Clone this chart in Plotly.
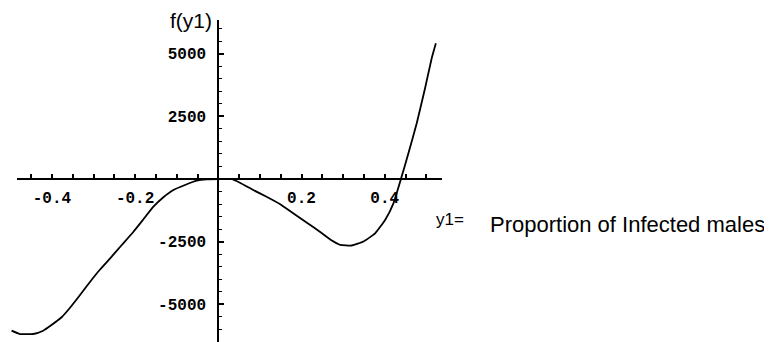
import plotly.graph_objects as go

# curve
y1_vals = [-0.497, -0.477, -0.445, -0.421, -0.401, -0.376, -0.357, -0.337, -0.316,
           -0.289, -0.260, -0.232, -0.204, -0.180, -0.156, -0.132, -0.108, -0.080,
           -0.052, -0.028, 0.0, 0.032, 0.052, 0.084, 0.116, 0.148, 0.180, 0.213,
           0.245, 0.273, 0.293, 0.321, 0.349, 0.377, 0.401, 0.421, 0.439, 0.457,
           0.477, 0.497, 0.513, 0.523]
f_vals = [-6053, -6185, -6185, -6053, -5826, -5506, -5147, -4728, -4269,
          -3699, -3164, -2633, -2103, -1608, -1105, -730, -439, -239,
          -68, -12, 0, -5, -148, -439, -706, -998, -1369, -1744,
          -2115, -2454, -2626, -2653, -2494, -2167, -1636, -970, 0, 1025,
          2223, 3619, 4816, 5414]

x_tickvals = [-0.4, -0.2, 0.2, 0.4]
x_ticktext = ["-0.4", "-0.2", "0.2", "0.4"]
y_tickvals = [-5000, -2500, 2500, 5000]
y_ticktext = ["-5000", "-2500", "2500", "5000"]

# page body has an 8px margin, so the figure starts 8px in
OFF = 8
W, H = 772 - OFF, 342 - OFF
# pixel mapping of the original plot (screen pixels)
x0_px, x_scale = 218.3, 416.0   # px of y1=0, px per unit
y0_px, y_scale = 179.0, 39.9    # px of f=0, units per px


def px_to_x(p):
    return (p - x0_px) / x_scale


def px_to_y(p):
    return (y0_px - p) * y_scale


def fx(p):  # screen px -> paper fraction
    return (p - OFF) / W


def fy(p):
    return 1 - (p - OFF) / H


tick_font = dict(family="Liberation Mono, Courier New, monospace", size=16, color="black", weight="bold")

fig = go.Figure()
fig.add_trace(go.Scatter(x=y1_vals, y=f_vals, mode="lines",
                         line=dict(color="black", width=1.8, shape="spline", smoothing=0.4),
                         showlegend=False, hoverinfo="skip"))
# empty trace so the drawn axes get a subplot
fig.add_trace(go.Scatter(x=[], y=[], xaxis="x2", yaxis="y2", showlegend=False))

fig.update_layout(
    width=W, height=H,
    margin=dict(l=0, r=0, t=0, b=0),
    paper_bgcolor="white", plot_bgcolor="rgba(0,0,0,0)",
    xaxis=dict(domain=[0, 1], range=[px_to_x(OFF), px_to_x(772)], visible=False),
    yaxis=dict(domain=[0, 1], range=[px_to_y(342), px_to_y(OFF)], visible=False),
    xaxis2=dict(
        domain=[fx(17), fx(442)], range=[px_to_x(17), px_to_x(442)],
        anchor="free", position=fy(y0_px),
        showline=True, linecolor="black", linewidth=2, showgrid=False, zeroline=False,
        tickmode="array", tickvals=x_tickvals, ticktext=x_ticktext,
        ticks="inside", ticklen=4, tickwidth=1.5, tickcolor="black",
        tickfont=tick_font, ticklabelstandoff=4,
        minor=dict(tickmode="linear", tick0=0, dtick=0.05, ticks="inside",
                   ticklen=4, tickwidth=1.5, tickcolor="black", showgrid=False),
    ),
    yaxis2=dict(
        domain=[0, fy(20)], range=[px_to_y(342), px_to_y(20)],
        anchor="free", position=fx(x0_px),
        showline=True, linecolor="black", linewidth=2, showgrid=False, zeroline=False,
        tickmode="array", tickvals=y_tickvals, ticktext=y_ticktext,
        ticks="inside", ticklen=5, tickwidth=1.5, tickcolor="black",
        tickfont=tick_font, ticklabelstandoff=8,
        minor=dict(tickmode="linear", tick0=0, dtick=500, ticks="inside",
                   ticklen=3, tickwidth=1.2, tickcolor="black", showgrid=False),
    ),
)

label_font = "Liberation Sans, Arial, sans-serif"
fig.add_annotation(text="f(y1)", xref="paper", yref="paper", x=fx(191), y=fy(20.5),
                   xanchor="center", yanchor="middle", showarrow=False,
                   font=dict(family=label_font, size=21, color="black"))
fig.add_annotation(text="y1=", xref="paper", yref="paper", x=fx(449.5), y=fy(219.5),
                   xanchor="center", yanchor="middle", showarrow=False,
                   font=dict(family=label_font, size=17, color="black"))
fig.add_annotation(text="Proportion of Infected males", xref="paper", yref="paper",
                   x=fx(627), y=fy(224.5),
                   xanchor="center", yanchor="middle", showarrow=False,
                   font=dict(family=label_font, size=22, color="black"))

fig.write_html("out.html")
